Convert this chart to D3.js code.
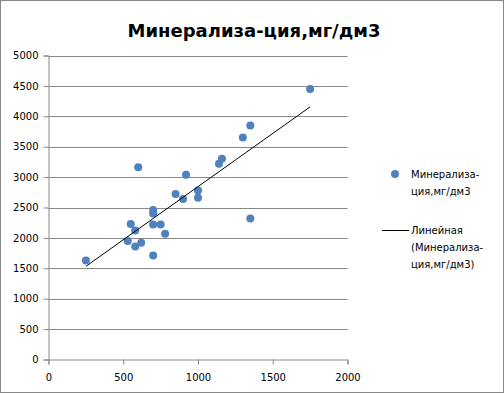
<!DOCTYPE html>
<html>
<head>
<meta charset="utf-8">
<script src="https://cdn.jsdelivr.net/npm/d3@7"></script>
<style>
  body { margin: 0; background: #fff; }
  text { font-family: "DejaVu Sans", sans-serif; }
</style>
</head>
<body>
<div id="chart"></div>
<script>
var title = 'Минерализа-ция,мг/дм3';
var xTicks = [0, 500, 1000, 1500, 2000];
var yTicks = [0, 500, 1000, 1500, 2000, 2500, 3000, 3500, 4000, 4500, 5000];

// readings: x and y values
var xValues = [250, 530, 550, 580, 580, 600, 620, 700, 700, 700, 700, 750, 780,
               850, 900, 920, 1000, 1000, 1140, 1160, 1300, 1350, 1350, 1750];
var yValues = [1630, 1950, 2230, 2120, 1860, 3160, 1920, 2460, 2400, 2220, 1710, 2220, 2070,
               2720, 2640, 3040, 2780, 2660, 3220, 3300, 3650, 3850, 2320, 4450];

var legendDots = ['Минерализа-', 'ция,мг/дм3'];
var legendLine = ['Линейная', '(Минерализа-', 'ция,мг/дм3)'];

var W = 504, H = 393;
var svg = d3.select('#chart').append('svg')
    .attr('width', W)
    .attr('height', H);

svg.append('rect')
    .attr('x', 0.5).attr('y', 0.5)
    .attr('width', W - 1).attr('height', H - 1)
    .attr('fill', '#fff')
    .attr('stroke', '#888');

var x = d3.scaleLinear().domain([0, 2000]).range([48.5, 347.5]);
var y = d3.scaleLinear().domain([0, 5000]).range([359.5, 55.5]);

// horizontal grid
svg.append('g')
    .selectAll('line')
    .data(yTicks.slice(1))
    .enter()
    .append('line')
    .attr('x1', x(0)).attr('x2', x(2000))
    .attr('y1', function (d) { return Math.round(y(d)) + 0.5; })
    .attr('y2', function (d) { return Math.round(y(d)) + 0.5; })
    .attr('stroke', '#888')
    .attr('stroke-width', 1);

var xAxis = svg.append('g')
    .attr('transform', 'translate(0,' + y(0) + ')')
    .call(d3.axisBottom(x).tickValues(xTicks).tickSize(5).tickPadding(9).tickFormat(d3.format('d')));

var yAxis = svg.append('g')
    .attr('transform', 'translate(' + x(0) + ',0)')
    .call(d3.axisLeft(y).tickValues(yTicks).tickSize(5).tickPadding(5).tickFormat(d3.format('d')));

[xAxis, yAxis].forEach(function (a) {
    a.select('.domain').attr('stroke', '#888');
    a.selectAll('.tick line').attr('stroke', '#888');
    a.selectAll('text')
        .attr('fill', '#000')
        .style('font-family', '"DejaVu Sans", sans-serif')
        .style('font-size', '10px');
});

// points
var pts = xValues.map(function (v, i) { return { x: v, y: yValues[i] }; });
svg.append('g')
    .selectAll('circle')
    .data(pts)
    .enter()
    .append('circle')
    .attr('cx', function (d) { return x(d.x); })
    .attr('cy', function (d) { return y(d.y); })
    .attr('r', 4)
    .attr('fill', '#4f81bd');

// linear trend line (least squares)
var mx = d3.mean(xValues), my = d3.mean(yValues);
var sxy = d3.sum(xValues, function (v, i) { return (v - mx) * (yValues[i] - my); });
var sxx = d3.sum(xValues, function (v) { return (v - mx) * (v - mx); });
var slope = sxy / sxx, icpt = my - slope * mx;
var x0 = d3.min(xValues), x1 = d3.max(xValues);
svg.append('line')
    .attr('x1', x(x0)).attr('y1', y(icpt + slope * x0))
    .attr('x2', x(x1)).attr('y2', y(icpt + slope * x1))
    .attr('stroke', '#000')
    .attr('stroke-width', 1);

// title
svg.append('text')
    .attr('x', 254).attr('y', 37)
    .attr('text-anchor', 'middle')
    .style('font-size', '18px')
    .style('font-weight', 'bold')
    .text(title);

// legend
var lg = svg.append('g');
lg.append('circle')
    .attr('cx', 395).attr('cy', 174)
    .attr('r', 4)
    .attr('fill', '#4f81bd');
lg.selectAll('.ld')
    .data(legendDots)
    .enter()
    .append('text')
    .attr('x', 411)
    .attr('y', function (d, i) { return 178 + i * 17; })
    .style('font-size', '10px')
    .text(function (d) { return d; });
lg.append('line')
    .attr('x1', 382).attr('x2', 409)
    .attr('y1', 230.5).attr('y2', 230.5)
    .attr('stroke', '#000');
lg.selectAll('.ll')
    .data(legendLine)
    .enter()
    .append('text')
    .attr('x', 411)
    .attr('y', function (d, i) { return 234 + i * 17; })
    .style('font-size', '10px')
    .text(function (d) { return d; });
</script>
</body>
</html>
